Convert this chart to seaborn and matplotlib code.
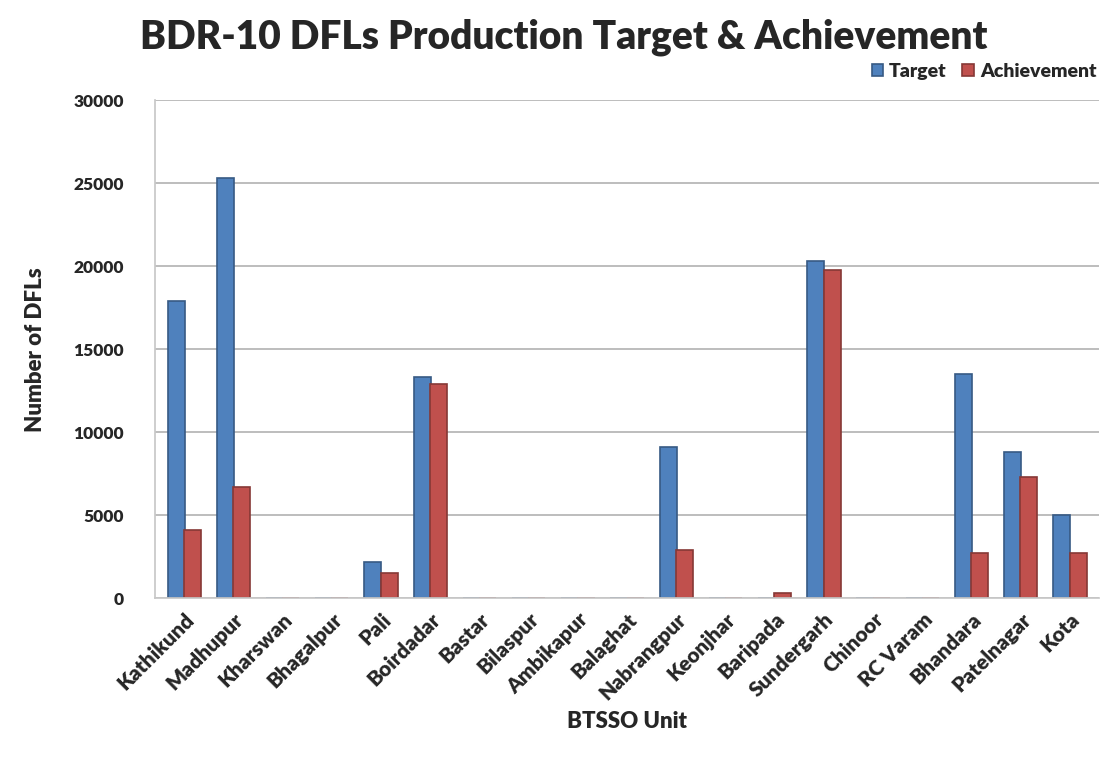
import matplotlib
matplotlib.use("Agg")
import matplotlib.pyplot as plt
import seaborn as sns
import pandas as pd

units = ["Kathikund", "Madhupur", "Kharswan", "Bhagalpur", "Pali", "Boirdadar",
         "Bastar", "Bilaspur", "Ambikapur", "Balaghat", "Nabrangpur", "Keonjhar",
         "Baripada", "Sundergarh", "Chinoor", "RC Varam", "Bhandara", "Patelnagar", "Kota"]
target = [17900, 25300, 0, 0, 2200, 13300, 0, 0, 0, 0, 9100, 0, 0, 20300, 0, 0, 13500, 8800, 5000]
achievement = [4100, 6700, 0, 0, 1500, 12900, 0, 0, 0, 0, 2900, 0, 300, 19800, 0, 0, 2700, 7300, 2700]
series = ["Target", "Achievement"]
yticks = [0, 5000, 10000, 15000, 20000, 25000, 30000]

df = pd.DataFrame({
    "Unit": units * 2,
    "DFLs": target + achievement,
    "Series": [series[0]] * len(units) + [series[1]] * len(units),
})

sns.set_theme(style="white")
plt.rcParams["font.family"] = ["Lato", "DejaVu Sans"]

fig = plt.figure(figsize=(11.05, 7.6), dpi=100)
ax = fig.add_axes([0.14, 0.213, 0.855, 0.655])

palette = {"Target": "#4F81BD", "Achievement": "#C0504D"}
sns.barplot(data=df, x="Unit", y="DFLs", hue="Series", palette=palette,
            width=0.66, gap=-0.05, edgecolor=None, saturation=1, ax=ax, legend=True)

# darker outline gives the bars some depth
for patch in ax.patches:
    fc = patch.get_facecolor()
    patch.set_edgecolor(tuple(c * 0.7 for c in fc[:3]) + (1,))
    patch.set_linewidth(1.2)

ax.set_ylim(0, 30000)
ax.set_yticks(yticks)
ax.set_yticklabels([str(v) for v in yticks], fontsize=12.5, fontweight="heavy")
ax.set_xlim(-0.6, len(units) - 0.4)
ax.yaxis.grid(True, color="#b8b8b8", linewidth=1.3)
ax.set_axisbelow(True)
for side in ["top", "right"]:
    ax.spines[side].set_visible(False)
ax.spines["left"].set_color("#c8c8c8")
ax.spines["bottom"].set_color("#c8c8c8")
ax.tick_params(axis="y", length=0, pad=22)
ax.tick_params(axis="x", length=0, pad=8)

plt.setp(ax.get_xticklabels(), rotation=45, ha="right", rotation_mode="anchor",
         fontsize=15, fontweight="heavy")

ax.set_xlabel("BTSSO Unit", fontsize=16, fontweight="heavy", labelpad=6)
ax.set_ylabel("Number of DFLs", fontsize=16, fontweight="heavy", labelpad=20)

fig.suptitle("BDR-10 DFLs Production Target & Achievement", x=0.51, y=0.975,
             fontsize=28, fontweight="heavy")

handles, labels = ax.get_legend_handles_labels()
ax.legend(handles, labels, loc="lower right", bbox_to_anchor=(1.005, 1.025), ncol=2,
          frameon=False, prop={"weight": "heavy", "size": 14},
          handlelength=0.6, handleheight=0.6, handletextpad=0.3, columnspacing=0.8,
          borderaxespad=0.0)

fig.savefig("out.png", dpi=100)
